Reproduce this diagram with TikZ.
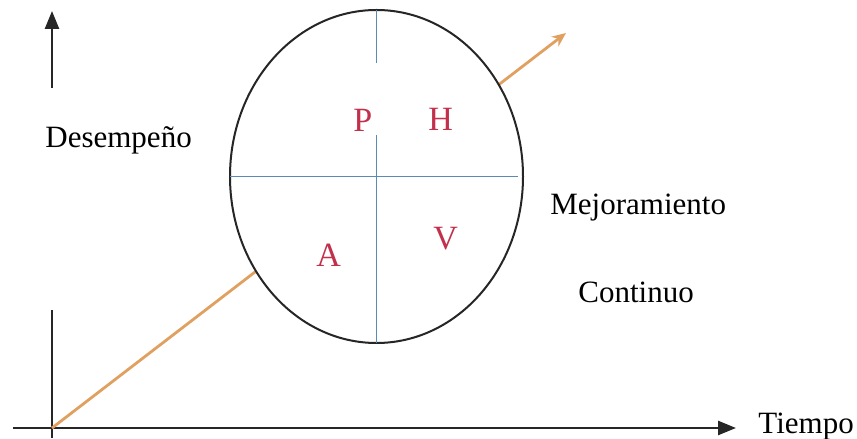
\documentclass[tikz,border=0pt]{standalone}
\usepackage{fontspec}
\setmainfont{Liberation Serif}
\usepackage{xcolor}
\usetikzlibrary{arrows.meta,positioning,calc,shapes.geometric}
\definecolor{pdcared}{HTML}{C2304C}
\definecolor{pdcablue}{HTML}{5A8BB5}
\definecolor{pdcaorange}{HTML}{E0A060}
\tikzset{
  axis/.style={line width=1.3pt, draw=black!85},
  label/.style={anchor=base west, inner sep=0pt, font=\fontsize{15.5}{18}\selectfont},
  letter/.style={anchor=base west, inner sep=0pt, text=pdcared, font=\fontsize{17}{20}\selectfont},
}

\begin{document}
\begin{tikzpicture}[x=0.5pt,y=0.5pt]
    \useasboundingbox (0,0) rectangle (857,439);
    \coordinate (o) at (52,11);
    \coordinate (xs) at (13,11);
    \coordinate (xe) at (736,11);
    \coordinate (yb) at (52,1);
    \coordinate (yt) at (52,129);
    \coordinate (us) at (52,351);
    \coordinate (ue) at (52,428);
    \coordinate (tip) at (566,406);
    % axes
    \draw[axis] (yb) -- (yt);
    \draw[axis, -{Triangle[length=9pt,width=7pt]}] (xs) -- (xe);
    \draw[axis, -{Triangle[length=9pt,width=7pt]}] (us) -- (ue);
    % improvement line behind the cycle
    \draw[pdcaorange, line width=1.4pt, -{Stealth[length=7pt,width=6pt]}] (o) -- (tip);
    \node[ellipse, draw=black!85, fill=white, line width=1pt, outer sep=0pt,
          minimum width=146.5pt, minimum height=166.5pt] (cycle) at (376.5,262.5) {};
    \coordinate (gapt) at (376.5,376);
    \coordinate (gapb) at (376.5,304);
    \draw[pdcablue, line width=0.6pt] (cycle.north) -- (gapt);
    \draw[pdcablue, line width=0.6pt] (gapb) -- (cycle.south);
    \draw[pdcablue, line width=0.6pt] (cycle.west) -- ($(cycle.east)+(-5,0)$);
    % PHVA
    \node[letter] (p) at (353,307) {P};
    \node[letter] (h) at (428,308) {H};
    \node[letter] (a) at (316,172) {A};
    \node[letter] (v) at (433,189) {V};
    % texts
    \node[label] (des) at (45,291) {Desempeño};
    \node[label] (mej) at (550,224) {Mejoramiento};
    \node[label] (con) at (578,136) {Continuo};
    \node[label] (tie) at (758,5) {Tiempo};
\end{tikzpicture}
\end{document}
